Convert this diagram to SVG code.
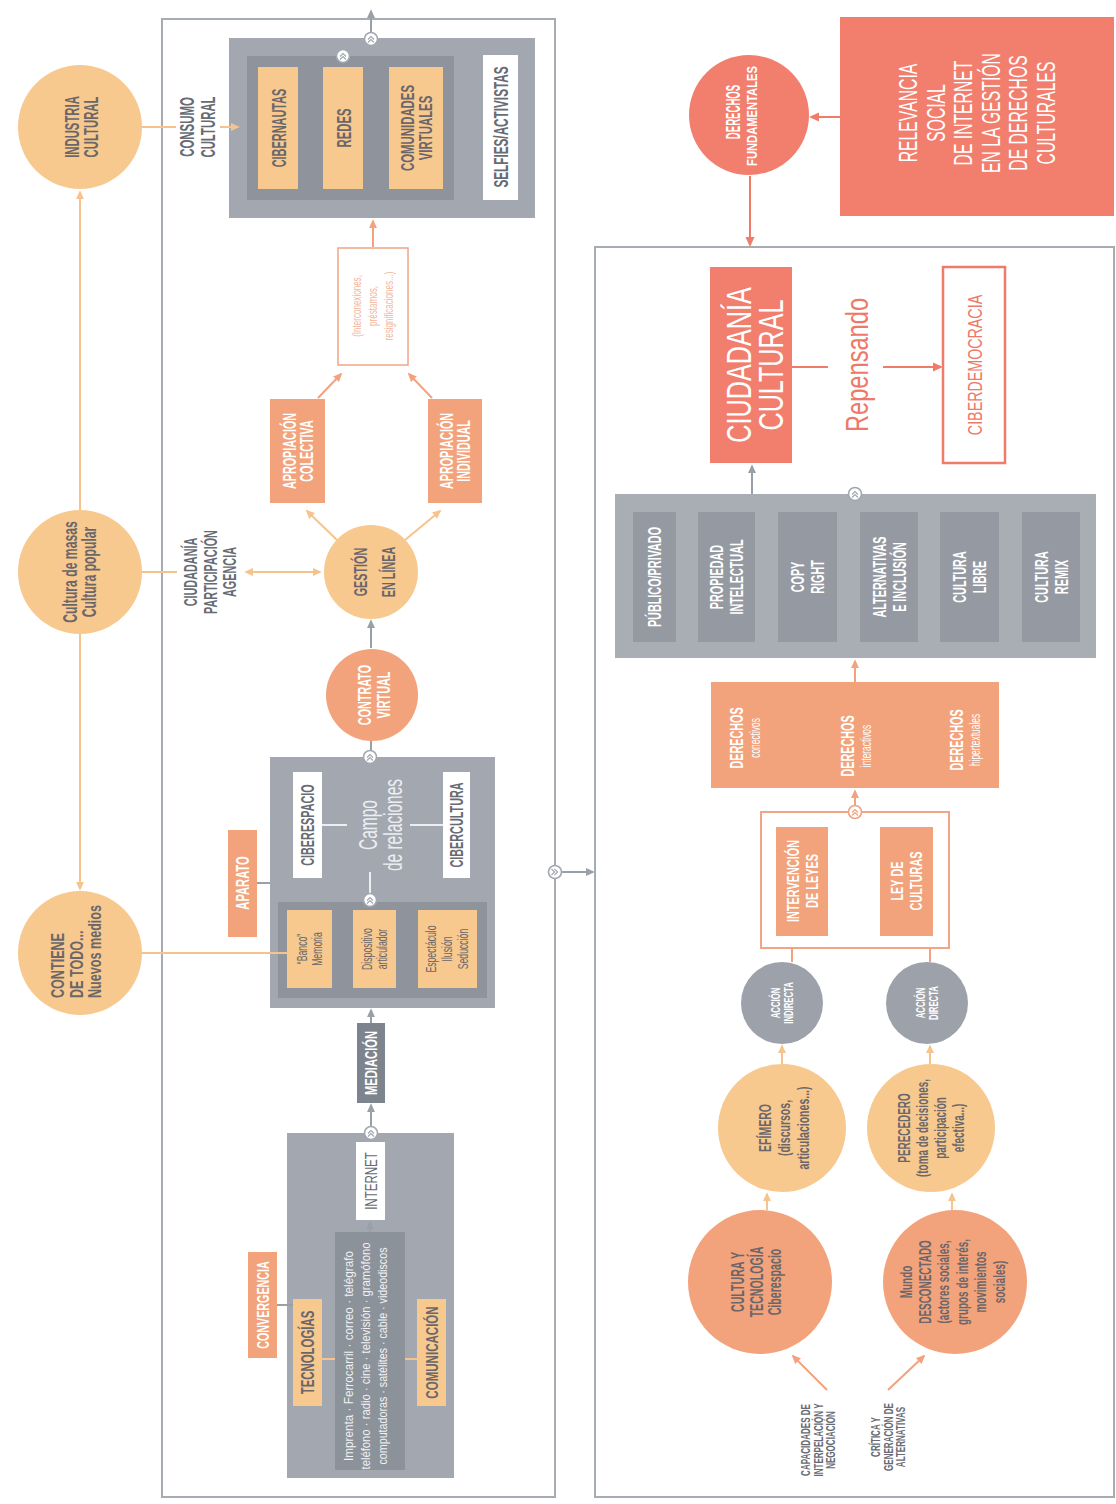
<svg xmlns="http://www.w3.org/2000/svg" xmlns:xlink="http://www.w3.org/1999/xlink" width="1116" height="1504" viewBox="0 0 1116 1504">
  <style>
    .t{font-family:"Liberation Sans",Arial,sans-serif;text-anchor:middle}
    .b{font-weight:bold}
    .s{text-anchor:start}
    .w{fill:#ffffff}
    .d{fill:#676b73}
    .br{fill:#6b666a}
    .cr{fill:#ee7968}
    .lw{fill:#eceef1}
    .fd{fill:#f3b79d}
    .peach{fill:#f8c98e}
    .salmon{fill:#f3a37b}
    .coral{fill:#f27e6e}
    .gO{fill:#a3a8b0}
    .gI{fill:#8f949c}
    .gL{fill:#a9aeb5}
    .gM{fill:#959aa2}
    .frame{fill:none;stroke:#a7acb3;stroke-width:2}
    .lp{stroke:#f5c48e;stroke-width:2;fill:none}
    .lg{stroke:#9aa0a8;stroke-width:2;fill:none}
    .lc{stroke:#ef7b6b;stroke-width:2;fill:none}
    .ls{stroke:#f2a27e;stroke-width:2;fill:none}
    .lwh{stroke:#eceef1;stroke-width:2;fill:none}
  </style>
  <defs>
    <marker id="ap" viewBox="0 0 10 10" refX="8" refY="5" markerWidth="9" markerHeight="9" markerUnits="userSpaceOnUse" orient="auto-start-reverse"><path d="M0,0.5 L10,5 L0,9.5 z" fill="#f5c48e"/></marker>
    <marker id="ag" viewBox="0 0 10 10" refX="8" refY="5" markerWidth="9" markerHeight="9" markerUnits="userSpaceOnUse" orient="auto-start-reverse"><path d="M0,0.5 L10,5 L0,9.5 z" fill="#9aa0a8"/></marker>
    <marker id="ac" viewBox="0 0 10 10" refX="8" refY="5" markerWidth="10" markerHeight="10" markerUnits="userSpaceOnUse" orient="auto-start-reverse"><path d="M0,0.5 L10,5 L0,9.5 z" fill="#ef7b6b"/></marker>
    <marker id="as" viewBox="0 0 10 10" refX="8" refY="5" markerWidth="9" markerHeight="9" markerUnits="userSpaceOnUse" orient="auto-start-reverse"><path d="M0,0.5 L10,5 L0,9.5 z" fill="#f2a27e"/></marker>
    <g id="knot"><circle r="6.5" fill="#ffffff" stroke="#a3a8b0" stroke-width="1.6"/><path d="M-3,0.5 L0,-2.5 L3,0.5 M-3,3.5 L0,0.5 L3,3.5" fill="none" stroke="#a3a8b0" stroke-width="1.2"/></g>
    <g id="knotS"><circle r="6.5" fill="#ffffff" stroke="#f2a27e" stroke-width="1.6"/><path d="M-3,0.5 L0,-2.5 L3,0.5 M-3,3.5 L0,0.5 L3,3.5" fill="none" stroke="#f2a27e" stroke-width="1.2"/></g>
  </defs>

  <rect width="1116" height="1504" fill="#ffffff"/>

  <!-- panel frames -->
  <g id="frames">
    <rect class="frame" x="162" y="19" width="393" height="1478"/>
    <rect class="frame" x="595" y="247" width="519" height="1250"/>
  </g>

  <!-- ===== left panel ===== -->
  <g id="industria-cultural">
    <circle class="peach" cx="80" cy="127" r="62"/>
    <text class="t b br" font-size="21" transform="translate(81,127) rotate(-90) scale(0.54,1)"><tspan x="0" y="-1.9">INDUSTRIA</tspan><tspan x="0" y="17.1">CULTURAL</tspan></text>
  </g>

  <g id="cultura-masas">
    <circle class="peach" cx="80" cy="572" r="62"/>
    <text class="t b br" font-size="20" transform="translate(80,572) rotate(-90) scale(0.61,1)"><tspan x="0" y="-3.1">Cultura de masas</tspan><tspan x="0" y="15.9">Cultura popular</tspan></text>
  </g>

  <g id="contiene-de-todo">
    <circle class="peach" cx="80" cy="953" r="62"/>
    <text class="t b s br" font-size="18" transform="translate(76,998) rotate(-90) scale(0.7,1)"><tspan x="0" y="-12.5">CONTIENE</tspan><tspan x="0" y="6.5">DE TODO...</tspan><tspan x="0" y="25.5">Nuevos medios</tspan></text>
  </g>

  <g id="consumo-cultural-label">
    <text class="t b d" font-size="20" transform="translate(197,127) rotate(-90) scale(0.57,1)"><tspan x="0" y="-3.3">CONSUMO</tspan><tspan x="0" y="17.7">CULTURAL</tspan></text>
  </g>

  <g id="consumo">
    <rect class="gO" x="229" y="38" width="306" height="180"/>
    <rect class="gI" x="247" y="56" width="207" height="144"/>
    <rect class="peach" x="258" y="67" width="40" height="122"/>
    <text class="t b br" font-size="21" transform="translate(278,128) rotate(-90) scale(0.52,1)"><tspan x="0" y="7.6">CIBERNAUTAS</tspan></text>
    <rect class="peach" x="323" y="67" width="40" height="122"/>
    <text class="t b br" font-size="21" transform="translate(343,128) rotate(-90) scale(0.54,1)"><tspan x="0" y="7.6">REDES</tspan></text>
    <rect class="peach" x="389" y="67" width="54" height="122"/>
    <text class="t b br" font-size="19" transform="translate(416,128) rotate(-90) scale(0.6,1)"><tspan x="0" y="-2.2">COMUNIDADES</tspan><tspan x="0" y="15.8">VIRTUALES</tspan></text>
    <rect fill="#ffffff" x="483" y="55" width="35" height="145"/>
    <text class="t b d" font-size="21" transform="translate(500,127) rotate(-90) scale(0.56,1)"><tspan x="0" y="7.6">SELFIES/ACTIVISTAS</tspan></text>
  </g>

  <g id="interconexiones">
    <rect x="338" y="248" width="70" height="117" fill="#ffffff" stroke="#f2a486" stroke-width="1.5"/>
    <text class="t fd" font-size="13" transform="translate(372,306) rotate(-90) scale(0.62,1)"><tspan x="0" y="-11.3">(Interconexiones,</tspan><tspan x="0" y="4.7">préstamos,</tspan><tspan x="0" y="20.7">resignificaciones...)</tspan></text>
  </g>

  <g id="apropiacion-colectiva">
    <rect class="salmon" x="270" y="399" width="55" height="104"/>
    <text class="t b w" font-size="18" transform="translate(297.5,451) rotate(-90) scale(0.6,1)"><tspan x="0" y="-2">APROPIACIÓN</tspan><tspan x="0" y="15">COLECTIVA</tspan></text>
  </g>

  <g id="apropiacion-individual">
    <rect class="salmon" x="428" y="399" width="54" height="104"/>
    <text class="t b w" font-size="18" transform="translate(455,451) rotate(-90) scale(0.6,1)"><tspan x="0" y="-2">APROPIACIÓN</tspan><tspan x="0" y="15">INDIVIDUAL</tspan></text>
  </g>

  <g id="ciudadania-participacion-label">
    <text class="t b d" font-size="19" transform="translate(210,572) rotate(-90) scale(0.57,1)"><tspan x="0" y="-12.7">CIUDADANÍA</tspan><tspan x="0" y="6.8">PARTICIPACIÓN</tspan><tspan x="0" y="26.3">AGENCIA</tspan></text>
  </g>

  <g id="gestion-en-linea">
    <circle class="peach" cx="371" cy="572" r="47"/>
    <text class="t b br" font-size="19" transform="translate(374,572) rotate(-90) scale(0.57,1)"><tspan x="0" y="-7.2">GESTIÓN</tspan><tspan x="0" y="20.8">EN LÍNEA</tspan></text>
  </g>

  <g id="contrato-virtual">
    <circle class="salmon" cx="372" cy="695" r="46"/>
    <text class="t b w" font-size="19" transform="translate(374,695) rotate(-90) scale(0.57,1)"><tspan x="0" y="-2.7">CONTRATO</tspan><tspan x="0" y="16.3">VIRTUAL</tspan></text>
  </g>

  <g id="aparato">
    <rect class="salmon" x="228" y="830" width="29" height="107"/>
    <text class="t b w" font-size="18" transform="translate(242.5,883) rotate(-90) scale(0.62,1)"><tspan x="0" y="6.5">APARATO</tspan></text>
  </g>

  <g id="campo-de-relaciones">
    <rect class="gO" x="270" y="757" width="225" height="251"/>
    <rect fill="#ffffff" x="293" y="772" width="29" height="106"/>
    <text class="t b d" font-size="19" transform="translate(307.5,825) rotate(-90) scale(0.57,1)"><tspan x="0" y="6.8">CIBERESPACIO</tspan></text>
    <rect fill="#ffffff" x="443" y="772" width="27" height="106"/>
    <text class="t b d" font-size="19" transform="translate(456.5,825) rotate(-90) scale(0.57,1)"><tspan x="0" y="6.8">CIBERCULTURA</tspan></text>
    <line class="lwh" x1="322" y1="825" x2="347" y2="825"/>
    <line class="lwh" x1="410" y1="825" x2="443" y2="825"/>
    <text class="t lw" font-size="25" transform="translate(377,825) rotate(-90) scale(0.62,1)"><tspan x="0" y="0">Campo</tspan><tspan x="0" y="25">de relaciones</tspan></text>
    <line class="lwh" x1="370" y1="872" x2="370" y2="894"/>
    <rect class="gI" x="278" y="902" width="209" height="96"/>
    <use href="#knot" x="370" y="900"/>
    <rect class="peach" x="287" y="910" width="45" height="78"/>
    <text class="t br" font-size="14" transform="translate(309.5,949) rotate(-90) scale(0.62,1)"><tspan x="0" y="-3">“Banco”</tspan><tspan x="0" y="12">Memoria</tspan></text>
    <rect class="peach" x="353" y="910" width="43" height="78"/>
    <text class="t br" font-size="14" transform="translate(374.5,949) rotate(-90) scale(0.62,1)"><tspan x="0" y="-3">Dispositivo</tspan><tspan x="0" y="12">articulador</tspan></text>
    <rect class="peach" x="418" y="910" width="59" height="78"/>
    <text class="t br" font-size="14" transform="translate(447.5,949) rotate(-90) scale(0.62,1)"><tspan x="0" y="-11.5">Espectáculo</tspan><tspan x="0" y="4.5">Ilusión</tspan><tspan x="0" y="20.5">Seducción</tspan></text>
  </g>

  <g id="mediacion">
    <rect fill="#7e848d" x="357" y="1023" width="28" height="80"/>
    <text class="t b w" font-size="17" transform="translate(371,1063) rotate(-90) scale(0.66,1)"><tspan x="0" y="6.1">MEDIACIÓN</tspan></text>
  </g>

  <g id="internet-tecnologias">
    <rect class="gO" x="287" y="1133" width="167" height="345"/>
    <rect fill="#ffffff" x="356" y="1142" width="29" height="78"/>
    <text class="t d" font-size="17" transform="translate(370.5,1181) rotate(-90) scale(0.68,1)"><tspan x="0" y="6.1">INTERNET</tspan></text>
    <rect fill="#8c929a" x="335" y="1232" width="70" height="238"/>
    <text class="t" fill="#f0f1f3" font-size="13.5" transform="translate(365,1356) rotate(-90)"><tspan x="0" y="-12.1" textLength="210" lengthAdjust="spacingAndGlyphs">Imprenta · Ferrocarril · correo · telégrafo</tspan><tspan x="0" y="4.9" textLength="227" lengthAdjust="spacingAndGlyphs">teléfono · radio · cine · televisión · gramófono</tspan><tspan x="0" y="21.9" textLength="217" lengthAdjust="spacingAndGlyphs">computadoras · satélites · cable · videodiscos</tspan></text>
  </g>

  <g id="tecnologias">
    <rect class="peach" x="293" y="1299" width="29" height="107"/>
    <text class="t b br" font-size="19" transform="translate(307.5,1352.5) rotate(-90) scale(0.6,1)"><tspan x="0" y="6.8">TECNOLOGÍAS</tspan></text>
  </g>

  <g id="convergencia">
    <rect class="salmon" x="248" y="1252" width="29" height="106"/>
    <text class="t b w" font-size="17" transform="translate(262.5,1305) rotate(-90) scale(0.63,1)"><tspan x="0" y="6.1">CONVERGENCIA</tspan></text>
  </g>

  <g id="comunicacion">
    <rect class="peach" x="417" y="1299" width="29" height="107"/>
    <text class="t b br" font-size="17" transform="translate(431.5,1352.5) rotate(-90) scale(0.68,1)"><tspan x="0" y="6.1">COMUNICACIÓN</tspan></text>
  </g>

  <!-- ===== right panel ===== -->
  <g id="relevancia-social">
    <rect class="coral" x="840" y="17" width="274" height="199"/>
    <text class="t w" font-size="25" transform="translate(977,113) rotate(-90) scale(0.63,1)"><tspan x="0" y="-60">RELEVANCIA</tspan><tspan x="0" y="-32.4">SOCIAL</tspan><tspan x="0" y="-4.8">DE INTERNET</tspan><tspan x="0" y="22.8">EN LA GESTIÓN</tspan><tspan x="0" y="50.4">DE DERECHOS</tspan><tspan x="0" y="78">CULTURALES</tspan></text>
  </g>

  <g id="derechos-fundamentales">
    <circle class="coral" cx="749" cy="115" r="60"/>
    <text class="t b w" font-size="20" transform="translate(733,112) rotate(-90) scale(0.48,1)"><tspan x="0" y="7.2">DERECHOS</tspan></text>
    <text class="t b w" font-size="14" transform="translate(752,116) rotate(-90) scale(0.8,1)"><tspan x="0" y="5">FUNDAMENTALES</tspan></text>
  </g>

  <g id="ciudadania-cultural">
    <rect class="coral" x="710" y="267" width="82" height="196"/>
    <text class="t w" font-size="36" transform="translate(754,365) rotate(-90) scale(0.7,1)"><tspan x="0" y="-3">CIUDADANÍA</tspan><tspan x="0" y="29">CULTURAL</tspan></text>
  </g>

  <g id="repensando">
    <text class="t cr" font-size="32" transform="translate(868,365) rotate(-90) scale(0.74,1)"><tspan x="0" y="0">Repensando</tspan></text>
  </g>

  <g id="ciberdemocracia">
    <rect x="943" y="267" width="62" height="196" fill="#ffffff" stroke="#ef7b6b" stroke-width="2.5"/>
    <text class="t cr" font-size="21" transform="translate(974,365) rotate(-90) scale(0.68,1)"><tspan x="0" y="7.6">CIBERDEMOCRACIA</tspan></text>
  </g>

  <g id="ejes-derechos">
    <rect class="gL" x="615" y="494" width="481" height="164"/>
    <rect class="gM" x="633" y="512" width="43" height="130"/>
    <text class="t b w" font-size="19" transform="translate(654.5,577) rotate(-90) scale(0.57,1)"><tspan x="0" y="6.8">PÚBLICO/PRIVADO</tspan></text>
    <rect class="gM" x="698" y="512" width="57" height="130"/>
    <text class="t b w" font-size="19" transform="translate(726.5,577) rotate(-90) scale(0.57,1)"><tspan x="0" y="-3.2">PROPIEDAD</tspan><tspan x="0" y="16.8">INTELECTUAL</tspan></text>
    <rect class="gM" x="778" y="512" width="59" height="130"/>
    <text class="t b w" font-size="19" transform="translate(807.5,577) rotate(-90) scale(0.57,1)"><tspan x="0" y="-3.2">COPY</tspan><tspan x="0" y="16.8">RIGHT</tspan></text>
    <rect class="gM" x="860" y="512" width="58" height="130"/>
    <text class="t b w" font-size="19" transform="translate(889,577) rotate(-90) scale(0.57,1)"><tspan x="0" y="-3.2">ALTERNATIVAS</tspan><tspan x="0" y="16.8">E INCLUSIÓN</tspan></text>
    <rect class="gM" x="940" y="512" width="59" height="130"/>
    <text class="t b w" font-size="19" transform="translate(969.5,577) rotate(-90) scale(0.57,1)"><tspan x="0" y="-3.2">CULTURA</tspan><tspan x="0" y="16.8">LIBRE</tspan></text>
    <rect class="gM" x="1022" y="512" width="58" height="130"/>
    <text class="t b w" font-size="19" transform="translate(1051,577) rotate(-90) scale(0.57,1)"><tspan x="0" y="-3.2">CULTURA</tspan><tspan x="0" y="16.8">REMIX</tspan></text>
  </g>

  <g id="derechos">
    <rect class="salmon" x="711" y="682" width="288" height="106"/>
    <text class="t w" transform="translate(746,738) rotate(-90) scale(0.6,1)"><tspan x="0" y="-3.4" font-size="18" font-weight="bold">DERECHOS</tspan><tspan x="0" y="14" font-size="14">conectivos</tspan></text>
    <text class="t w" transform="translate(857,746) rotate(-90) scale(0.6,1)"><tspan x="0" y="-3.4" font-size="18" font-weight="bold">DERECHOS</tspan><tspan x="0" y="14" font-size="14">interactivos</tspan></text>
    <text class="t w" transform="translate(966,740) rotate(-90) scale(0.6,1)"><tspan x="0" y="-3.4" font-size="18" font-weight="bold">DERECHOS</tspan><tspan x="0" y="14" font-size="14">hipertextuales</tspan></text>
  </g>

  <g id="leyes">
    <rect x="761" y="812" width="188" height="136" fill="none" stroke="#f2a486" stroke-width="2"/>
    <rect class="salmon" x="776" y="827" width="52" height="109"/>
    <text class="t b w" font-size="17" transform="translate(802,881) rotate(-90) scale(0.64,1)"><tspan x="0" y="-3.4">INTERVENCIÓN</tspan><tspan x="0" y="15.6">DE LEYES</tspan></text>
    <rect class="salmon" x="880" y="827" width="53" height="109"/>
    <text class="t b w" font-size="17" transform="translate(906.5,881) rotate(-90) scale(0.64,1)"><tspan x="0" y="-3.4">LEY DE</tspan><tspan x="0" y="15.6">CULTURAS</tspan></text>
  </g>

  <g id="accion-indirecta">
    <circle fill="#9da2aa" cx="782" cy="1003" r="41"/>
    <text class="t b w" font-size="12.5" transform="translate(782,1003) rotate(-90) scale(0.62,1)"><tspan x="0" y="-2">ACCIÓN</tspan><tspan x="0" y="11">INDIRECTA</tspan></text>
  </g>

  <g id="accion-directa">
    <circle fill="#9da2aa" cx="927" cy="1003" r="41"/>
    <text class="t b w" font-size="12.5" transform="translate(927,1003) rotate(-90) scale(0.62,1)"><tspan x="0" y="-2">ACCIÓN</tspan><tspan x="0" y="11">DIRECTA</tspan></text>
  </g>

  <g id="efimero">
    <circle class="peach" cx="782" cy="1128" r="64"/>
    <text class="t b br" font-size="17" transform="translate(784,1128) rotate(-90) scale(0.62,1)"><tspan x="0" y="-12.9">EFÍMERO</tspan><tspan x="0" y="6.1">(discursos,</tspan><tspan x="0" y="25.1">articulaciones...)</tspan></text>
  </g>

  <g id="perecedero">
    <circle class="peach" cx="931" cy="1128" r="64"/>
    <text class="t b br" font-size="16" transform="translate(931,1128) rotate(-90) scale(0.62,1)"><tspan x="0" y="-21.2">PERECEDERO</tspan><tspan x="0" y="-3.2">(toma de decisiones,</tspan><tspan x="0" y="14.8">participación</tspan><tspan x="0" y="32.8">efectiva...)</tspan></text>
  </g>

  <g id="cultura-tecnologia">
    <circle class="salmon" cx="760" cy="1282" r="72"/>
    <text class="t b br" font-size="18" transform="translate(756,1282) rotate(-90) scale(0.59,1)"><tspan x="0" y="-12.5">CULTURA Y</tspan><tspan x="0" y="6.5">TECNOLOGÍA</tspan><tspan x="0" y="25.5">Ciberespacio</tspan></text>
  </g>

  <g id="mundo-desconectado">
    <circle class="salmon" cx="955" cy="1282" r="72"/>
    <text class="t b br" font-size="16" transform="translate(953,1282) rotate(-90) scale(0.62,1)"><tspan x="0" y="-40.75">Mundo</tspan><tspan x="0" y="-22.25">DESCONECTADO</tspan><tspan x="0" y="-3.75">(actores sociales,</tspan><tspan x="0" y="14.75">grupos de interés,</tspan><tspan x="0" y="33.25">movimientos</tspan><tspan x="0" y="51.75">sociales)</tspan></text>
  </g>

  <g id="capacidades-label">
    <text class="t b d" font-size="13" transform="translate(818,1440) rotate(-90) scale(0.62,1)"><tspan x="0" y="-7.8">CAPACIDADES DE</tspan><tspan x="0" y="4.7">INTERPELACIÓN Y</tspan><tspan x="0" y="17.2">NEGOCIACIÓN</tspan></text>
  </g>

  <g id="critica-label">
    <text class="t b d" font-size="13" transform="translate(888,1437) rotate(-90) scale(0.62,1)"><tspan x="0" y="-7.8">CRÍTICA Y</tspan><tspan x="0" y="4.7">GENERACIÓN DE</tspan><tspan x="0" y="17.2">ALTERNATIVAS</tspan></text>
  </g>

  <!-- ===== connectors ===== -->
  <g id="connectors">
    <!-- left column spine -->
    <line class="lp" x1="80" y1="510" x2="80" y2="192" marker-end="url(#ap)"/>
    <line class="lp" x1="80" y1="634" x2="80" y2="889" marker-end="url(#ap)"/>
    <!-- industria to consumo -->
    <line class="lp" x1="142" y1="127" x2="176" y2="127"/>
    <line class="lp" x1="220" y1="127" x2="238" y2="127" marker-end="url(#ap)"/>
    <!-- cultura de masas to gestión -->
    <line class="lp" x1="142" y1="572" x2="177" y2="572"/>
    <line class="lp" x1="246" y1="572" x2="320" y2="572" marker-start="url(#ap)" marker-end="url(#ap)"/>
    <!-- contiene de todo to banco -->
    <line class="lp" x1="142" y1="953" x2="287" y2="953"/>
    <!-- gestión to apropiaciones -->
    <line class="lp" x1="337" y1="540" x2="307" y2="511" marker-end="url(#ap)"/>
    <line class="lp" x1="405" y1="540" x2="440" y2="511" marker-end="url(#ap)"/>
    <!-- apropiaciones to interconexiones -->
    <line class="ls" x1="318" y1="398" x2="341" y2="374" marker-end="url(#as)"/>
    <line class="ls" x1="432" y1="398" x2="409" y2="374" marker-end="url(#as)"/>
    <!-- interconexiones to consumo -->
    <line class="ls" x1="373" y1="247" x2="373" y2="221" marker-end="url(#as)"/>
    <!-- consumo knots and exit -->
    <line class="lg" x1="371" y1="33" x2="371" y2="11" marker-end="url(#ag)"/>
    <use href="#knot" x="371" y="39"/>
    <use href="#knot" x="343" y="56"/>
    <!-- contrato to gestión -->
    <line class="lg" x1="371" y1="648" x2="371" y2="621" marker-end="url(#ag)"/>
    <!-- campo to contrato -->
    <line class="lg" x1="371" y1="741" x2="371" y2="751"/>
    <use href="#knot" x="370" y="757"/>
    <!-- aparato -->
    <line class="lg" x1="257" y1="883" x2="270" y2="883"/>
    <!-- mediación -->
    <line class="lg" x1="371" y1="1023" x2="371" y2="1010" marker-end="url(#ag)"/>
    <line class="lg" x1="371" y1="1127" x2="371" y2="1105" marker-end="url(#ag)"/>
    <use href="#knot" x="371" y="1133"/>
    <line class="lg" x1="370" y1="1232" x2="370" y2="1222" marker-end="url(#ag)"/>
    <!-- tecnologías / convergencia / comunicación -->
    <line class="lp" x1="322" y1="1359" x2="335" y2="1359"/>
    <line class="lg" x1="277" y1="1305" x2="293" y2="1305"/>
    <line class="lp" x1="405" y1="1359" x2="417" y2="1359"/>
    <!-- left panel to right panel -->
    <line class="lg" x1="562" y1="872" x2="593" y2="872" marker-end="url(#ag)"/>
    <use href="#knot" transform="translate(555,872) rotate(90)"/>

    <!-- right panel -->
    <line class="lc" x1="840" y1="117" x2="811" y2="117" marker-end="url(#ac)"/>
    <line class="lc" x1="750" y1="176" x2="750" y2="245" marker-end="url(#ac)"/>
    <line class="lg" x1="752" y1="494" x2="752" y2="466" marker-end="url(#ag)"/>
    <use href="#knot" x="855" y="494"/>
    <line class="lc" x1="792" y1="367" x2="828" y2="367"/>
    <line class="lc" x1="883" y1="367" x2="941" y2="367" marker-end="url(#ac)"/>
    <line class="ls" x1="855" y1="682" x2="855" y2="661" marker-end="url(#as)"/>
    <line class="ls" x1="855" y1="806" x2="855" y2="791" marker-end="url(#as)"/>
    <use href="#knotS" x="855" y="812"/>
    <line class="ls" x1="792" y1="962" x2="792" y2="948" stroke-width="1.5"/>
    <line class="ls" x1="930" y1="962" x2="930" y2="948" stroke-width="1.5"/>
    <line class="lp" x1="782" y1="1064" x2="782" y2="1046" marker-end="url(#ap)"/>
    <line class="lp" x1="930" y1="1064" x2="930" y2="1046" marker-end="url(#ap)"/>
    <line class="lp" x1="767" y1="1210" x2="767" y2="1194" marker-end="url(#ap)"/>
    <line class="lp" x1="952" y1="1210" x2="952" y2="1194" marker-end="url(#ap)"/>
    <line class="ls" x1="827" y1="1390" x2="793" y2="1356" marker-end="url(#as)"/>
    <line class="ls" x1="888" y1="1390" x2="924" y2="1356" marker-end="url(#as)"/>
  </g>
</svg>
